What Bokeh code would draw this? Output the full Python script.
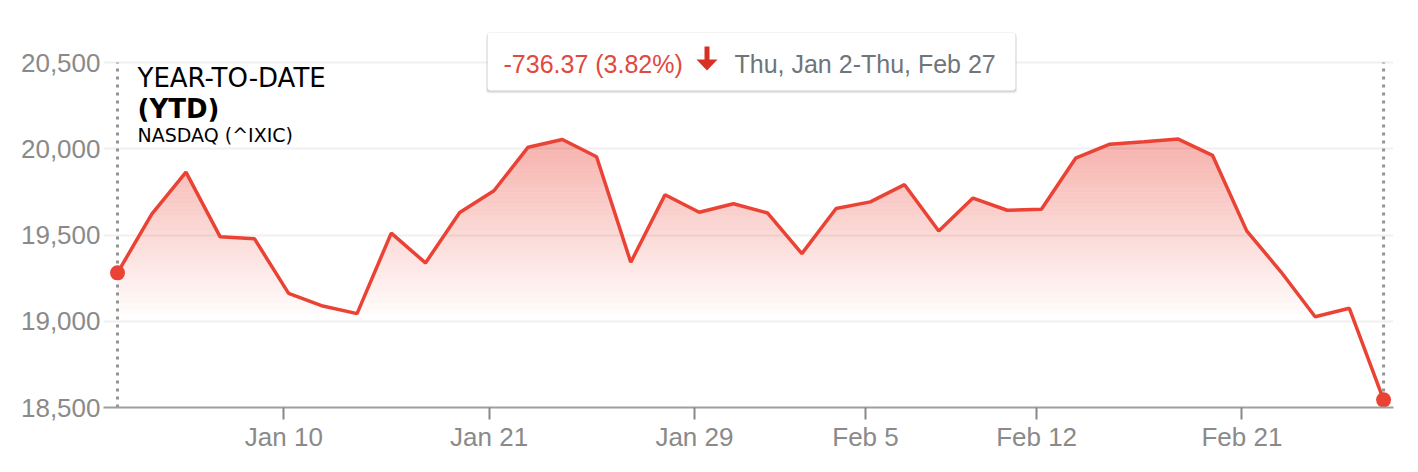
import numpy as np
from bokeh.plotting import figure
from bokeh.models import (Range1d, FixedTicker, NumeralTickFormatter, Label,
                          BoxAnnotation, PolyAnnotation)
from bokeh.embed import file_html
from bokeh.resources import INLINE

# NASDAQ Composite (^IXIC) daily closes, year to date
dates = ["Jan 2", "Jan 3", "Jan 6", "Jan 7", "Jan 8", "Jan 10", "Jan 13", "Jan 14",
         "Jan 15", "Jan 16", "Jan 17", "Jan 21", "Jan 22", "Jan 23", "Jan 24",
         "Jan 27", "Jan 28", "Jan 29", "Jan 30", "Jan 31", "Feb 3", "Feb 4",
         "Feb 5", "Feb 6", "Feb 7", "Feb 10", "Feb 11", "Feb 12", "Feb 13",
         "Feb 14", "Feb 18", "Feb 19", "Feb 20", "Feb 21", "Feb 24", "Feb 25",
         "Feb 26", "Feb 27"]
closes = [19280.79, 19621.68, 19864.98, 19489.68, 19478.88, 19161.63, 19088.10,
          19044.39, 19511.23, 19338.29, 19630.20, 19756.78, 20009.34, 20053.68,
          19954.30, 19341.83, 19733.59, 19632.32, 19681.75, 19627.44, 19391.96,
          19654.02, 19692.33, 19791.99, 19523.40, 19714.27, 19643.86, 19649.95,
          19945.64, 20026.77, 20041.26, 20056.25, 19962.36, 19524.01, 19286.93,
          19026.39, 19075.26, 18544.42]
tick_dates = ["Jan 10", "Jan 21", "Jan 29", "Feb 5", "Feb 12", "Feb 21"]
y_ticks = [18500, 19000, 19500, 20000, 20500]

change = closes[-1] - closes[0]
pct = abs(change) / closes[0] * 100
summary = f"{change:,.2f} ({pct:.2f}%)"
period = "Thu, Jan 2-Thu, Feb 27"

RED = "#ea4335"
GREY_TXT = "#8a8a8a"
AXIS_FONT = "Liberation Sans"
TITLE_FONT = "DejaVu Sans"

x = np.arange(len(dates), dtype=float)
y = np.array(closes)

# the frame reaches above the top tick so the summary box has room
p = figure(width=1418, height=472, output_backend="svg", toolbar_location=None,
           x_range=Range1d(-0.41, len(dates) - 1 + 0.29),
           y_range=Range1d(y_ticks[0], y_ticks[-1] + 215),
           min_border_left=103, min_border_right=25,
           min_border_top=25, min_border_bottom=65)
p.outline_line_color = None
p.background_fill_color = "white"
p.border_fill_color = "white"

# gradient fill under the line: horizontal bands whose opacity fades downward
fade_floor = 19000.0
top_alpha = 0.42
n_bands = 48
levels = np.linspace(fade_floor, y.max(), n_bands + 1)

xd, yd = [x[0]], [y[0]]
for i in range(len(x) - 1):
    x0, x1, y0, y1 = x[i], x[i + 1], y[i], y[i + 1]
    lo, hi = min(y0, y1), max(y0, y1)
    cross = levels[(levels > lo) & (levels < hi)]
    if len(cross):
        t = np.sort((cross - y0) / (y1 - y0))
        for tt in t:
            xd.append(x0 + tt * (x1 - x0))
            yd.append(y0 + tt * (y1 - y0))
    xd.append(x1)
    yd.append(y1)
xd = np.array(xd)
yd = np.array(yd)

for k in range(n_bands):
    lo, hi = levels[k], levels[k + 1]
    if not (yd > lo).any():
        continue
    a = top_alpha * (k + 0.5) / n_bands
    p.varea(x=xd, y1=np.full(len(xd), lo), y2=np.clip(yd, lo, hi),
            fill_color=RED, fill_alpha=a)

# dotted markers at the start and end of the period
p.segment(x0=[x[0], x[-1]], y0=[y_ticks[0]] * 2, x1=[x[0], x[-1]], y1=[y_ticks[-1]] * 2,
          line_color="#939393", line_width=3, line_dash="3 5")

p.line(x, y, line_color=RED, line_width=3.5)
p.scatter([x[0], x[-1]], [y[0], y[-1]], size=15, fill_color=RED, line_color=None)

# axes
p.yaxis.ticker = FixedTicker(ticks=y_ticks)
p.ygrid.ticker = FixedTicker(ticks=y_ticks)
p.yaxis.formatter = NumeralTickFormatter(format="0,0")
p.yaxis.axis_line_color = None
p.yaxis.major_tick_line_color = None
p.yaxis.major_tick_out = 0
p.yaxis.major_tick_in = 0
p.yaxis.minor_tick_line_color = None
p.yaxis.major_label_standoff = 3
p.yaxis.major_label_text_font = AXIS_FONT
p.yaxis.major_label_text_font_size = "26px"
p.yaxis.major_label_text_color = GREY_TXT

# date ticks sit a little before each session's close
tick_shift = -0.14
tick_pos = [dates.index(d) + tick_shift for d in tick_dates]
p.xaxis.ticker = FixedTicker(ticks=tick_pos)
p.xaxis.major_label_overrides = {t: d for t, d in zip(tick_pos, tick_dates)}
p.xaxis.axis_line_color = "#9e9e9e"
p.xaxis.axis_line_width = 2
p.xaxis.major_tick_line_color = "#888888"
p.xaxis.major_tick_line_width = 2
p.xaxis.major_tick_out = 12
p.xaxis.major_tick_in = 0
p.xaxis.minor_tick_line_color = None
p.xaxis.major_label_standoff = 2
p.xaxis.major_label_text_font = AXIS_FONT
p.xaxis.major_label_text_font_size = "26px"
p.xaxis.major_label_text_color = GREY_TXT

p.xgrid.grid_line_color = None
p.ygrid.grid_line_color = "#f0f0f0"
p.ygrid.grid_line_width = 2

# title block (screen units from the frame's lower-left corner)
for txt, yy, size, style in [("YEAR-TO-DATE", 330, "26px", "normal"),
                             ("(YTD)", 299, "26px", "bold"),
                             ("NASDAQ (^IXIC)", 273, "19px", "normal")]:
    p.add_layout(Label(x=34, y=yy, x_units="screen", y_units="screen", text=txt,
                       text_font=TITLE_FONT, text_font_size=size,
                       text_font_style=style, text_color="#000000",
                       text_baseline="alphabetic"))

# summary box
for off, alpha in [(3, 0.05), (2, 0.07), (1, 0.08)]:
    p.add_layout(BoxAnnotation(left=384 - off / 2, right=912 + off / 2,
                               bottom=317 - off, top=375 - off + 1,
                               left_units="screen", right_units="screen",
                               bottom_units="screen", top_units="screen",
                               fill_color="black", fill_alpha=alpha,
                               line_color=None, border_radius=3))
p.add_layout(BoxAnnotation(left=384, right=912, bottom=317, top=375,
                           left_units="screen", right_units="screen",
                           bottom_units="screen", top_units="screen",
                           fill_color="white", fill_alpha=1.0,
                           line_color="#e6e6e6", line_width=1, border_radius=3))
p.add_layout(Label(x=400, y=344, x_units="screen", y_units="screen", text=summary,
                   text_font=AXIS_FONT, text_font_size="25px", text_color="#e0493e",
                   text_baseline="alphabetic"))
p.add_layout(PolyAnnotation(
    xs=[601, 606, 606, 614, 603.5, 593, 601],
    ys=[361, 361, 348, 348, 337, 348, 348],
    xs_units="screen", ys_units="screen",
    fill_color="#d93025", fill_alpha=1.0, line_color=None))
p.add_layout(Label(x=631, y=344, x_units="screen", y_units="screen", text=period,
                   text_font=AXIS_FONT, text_font_size="25px", text_color="#70757a",
                   text_baseline="alphabetic"))

open("out.html", "w").write(file_html(p, INLINE))
